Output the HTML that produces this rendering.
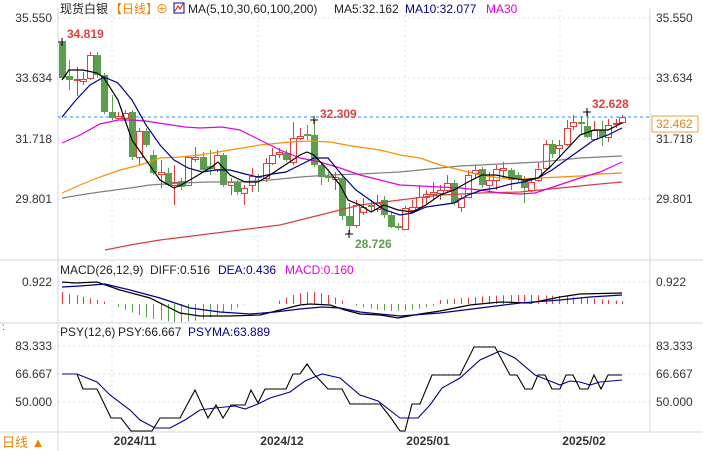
<!DOCTYPE html>
<html><head><meta charset="utf-8"><style>
body{margin:0;background:#fff;width:703px;height:451px;overflow:hidden}
svg{display:block;font-family:"Liberation Sans","Noto Sans CJK SC",sans-serif}
</style></head><body>
<svg id="s" width="703" height="451" xmlns="http://www.w3.org/2000/svg">
<rect width="703" height="451" fill="#fff"/>
<g stroke="#dde3ea" stroke-dasharray="2,3" stroke-width="1">
<line x1="58" y1="18" x2="650" y2="18"/><line x1="58" y1="78" x2="650" y2="78"/><line x1="58" y1="139" x2="650" y2="139"/><line x1="58" y1="199" x2="650" y2="199"/>
<line x1="58" y1="282" x2="650" y2="282"/>
<line x1="58" y1="346" x2="650" y2="346"/><line x1="58" y1="374" x2="650" y2="374"/><line x1="58" y1="402" x2="650" y2="402"/>
<line x1="112" y1="10" x2="112" y2="432"/><line x1="258" y1="10" x2="258" y2="432"/><line x1="405" y1="10" x2="405" y2="432"/><line x1="560" y1="10" x2="560" y2="432"/>
</g>
<g stroke="#d0d8e0"><line x1="58" y1="8" x2="58" y2="451"/><line x1="0" y1="260" x2="703" y2="260"/><line x1="0" y1="323" x2="703" y2="323"/><line x1="0" y1="432" x2="703" y2="432"/><line x1="650" y1="8" x2="650" y2="432"/></g>
<g font-size="12" fill="#333" text-anchor="end">
<text x="52" y="22">35.550</text><text x="52" y="82">33.634</text><text x="52" y="143">31.718</text><text x="52" y="203">29.801</text>
<text x="52" y="286">0.922</text><text x="52" y="350">83.333</text><text x="52" y="378">66.667</text><text x="52" y="406">50.000</text>
</g>
<g font-size="12" fill="#333">
<text x="656" y="22">35.550</text><text x="656" y="82">33.634</text><text x="656" y="143">31.718</text><text x="656" y="203">29.801</text>
<text x="656" y="286">0.922</text><text x="656" y="350">83.333</text><text x="656" y="378">66.667</text><text x="656" y="406">50.000</text>
</g>
<rect x="652" y="116" width="46" height="16" fill="#fff" stroke="#f0a040"/>
<text x="656" y="128" font-size="12" fill="#f08000">32.462</text>
<line x1="58" y1="117" x2="650" y2="117" stroke="#1e90ff" stroke-dasharray="3,3"/>
<g font-size="12" font-weight="bold" fill="#333" text-anchor="middle">
<text x="135" y="445">2024/11</text><text x="282" y="445">2024/12</text><text x="428" y="445">2025/01</text><text x="584" y="445">2025/02</text>
</g>
<text x="2" y="447" font-size="13" fill="#f08000">日线 ▲</text>
<text x="2" y="330" font-size="10" fill="#e00">:</text>
<g id="c"></g>
<g font-size="12">
<text x="60" y="13" fill="#222">现货白银</text>
<text x="110" y="13" fill="#f08000">【日线】</text>
<text x="156" y="13" fill="#f08000">⊕</text>
<rect x="174" y="3" width="10" height="10" fill="none" stroke="#00008b"/><polyline points="175,11 178,6 180,9 183,4" fill="none" stroke="#e00"/>
<text x="188" y="13" fill="#222">MA(5,10,30,60,100,200)</text>
<text x="334" y="13" fill="#222">MA5:32.162</text>
<text x="405" y="13" fill="#00008b">MA10:32.077</text>
<text x="486" y="13" fill="#e000e0">MA30</text>
<text x="60" y="274" fill="#222">MACD(26,12,9)</text>
<text x="150" y="274" fill="#222">DIFF:0.516</text>
<text x="218" y="274" fill="#00008b">DEA:0.436</text>
<text x="285" y="274" fill="#e000e0">MACD:0.160</text>
<text x="60" y="336" fill="#222">PSY(12,6)</text>
<text x="118" y="336" fill="#222">PSY:66.667</text>
<text x="188" y="336" fill="#00008b">PSYMA:63.889</text>
</g>
<g font-size="12" font-weight="bold">
<text x="67" y="38" fill="#e04040">34.819</text>
<text x="320" y="118" fill="#e04040">32.309</text>
<text x="592" y="108" fill="#e04040">32.628</text>
<text x="355" y="248" fill="#5b9e4d">28.726</text>
</g>
</svg>
<script>
var C=[[62,'g',43,78,42,80],[69,'g',76,80,60,90],[77,'r',79,80,67,96],[83,'r',79,81,72,85],[90,'r',55,78,52,80],[97,'g',55,75,52,78],[104,'g',75,112,73,114],[112,'g',112,118,95,120],[118,'r',116,118,112,120],[125,'r',113,118,110,122],[132,'g',112,157,110,160],[139,'r',131,157,128,165],[146,'g',131,145,128,147],[153,'g',155,173,150,175],[161,'r',172,174,160,188],[168,'g',173,185,168,186],[174,'r',182,185,165,205],[181,'g',181,187,178,190],[188,'r',157,185,156,186],[195,'r',157,159,147,162],[203,'g',157,170,152,172],[210,'g',166,169,150,175],[217,'r',155,169,150,172],[223,'g',155,185,153,187],[231,'r',182,185,178,195],[237,'g',182,192,180,195],[244,'r',188,193,185,205],[252,'r',176,185,168,192],[258,'g',176,178,174,192],[266,'r',163,178,158,182],[272,'r',155,163,148,165],[279,'r',152,154,148,158],[286,'g',153,160,150,162],[293,'r',138,162,122,165],[300,'r',136,138,128,140],[307,'g',134,136,125,140],[314,'g',135,165,120,167],[321,'g',165,177,162,185],[328,'g',176,178,172,182],[335,'r',177,179,172,190],[342,'g',178,216,176,220],[349,'g',216,226,203,234],[356,'r',205,225,200,228],[363,'r',207,212,198,215],[371,'g',205,207,200,212],[377,'r',203,209,195,212],[384,'g',200,215,196,218],[391,'g',215,227,212,228],[398,'g',226,228,223,230],[405,'r',208,229,206,230],[412,'r',207,210,200,213],[419,'r',197,207,185,210],[426,'r',194,197,190,205],[433,'r',192,194,182,200],[440,'r',190,193,185,200],[447,'r',183,190,175,192],[454,'g',183,203,180,205],[461,'r',198,207,195,212],[468,'r',175,197,170,198],[475,'r',170,173,165,178],[482,'g',169,185,167,188],[489,'r',180,185,172,192],[496,'r',169,180,165,190],[503,'r',168,170,162,178],[511,'g',170,180,168,190],[518,'g',175,179,172,182],[524,'g',179,188,176,203],[531,'r',182,190,178,192],[538,'r',169,180,162,182],[546,'r',144,168,140,170],[552,'g',144,154,140,158],[559,'r',145,148,140,158],[567,'r',128,144,120,146],[573,'r',122,126,115,130],[581,'g',122,124,116,134],[587,'g',126,137,111,138],[594,'r',130,139,121,141],[602,'g',130,137,121,146],[608,'r',125,137,119,142],[616,'r',123,124,119,128],[622,'r',117,122,115,124]];
var h='';
C.forEach(function(c){var col=c[1]=='r'?'#e23c3c':'#5b9e4d';
h+='<line x1="'+(c[0]+.5)+'" y1="'+c[4]+'" x2="'+(c[0]+.5)+'" y2="'+c[5]+'" stroke="'+col+'"/>';
var hh=Math.max(1,c[3]-c[2]);
if(c[1]=='r')h+='<rect x="'+(c[0]-2.5)+'" y="'+(c[2]+.5)+'" width="6" height="'+hh+'" fill="#fff" stroke="'+col+'"/>';
else h+='<rect x="'+(c[0]-3)+'" y="'+c[2]+'" width="7" height="'+hh+'" fill="'+col+'"/>';});
function pl(p,col,w){return '<polyline points="'+p+'" fill="none" stroke="'+col+'" stroke-width="'+(w||1)+'"/>';}
h+=pl('105,250 130,245 160,240 200,235 240,230 280,225 320,215 340,210 360,205 400,200 440,195 480,193 520,192 540,190 560,188 580,186 600,184 622,182','#d84040',1.2);
h+=pl('62,198 80,195 100,192 130,188 150,185 180,183 210,182 240,182 270,180 300,177 330,175 360,174 380,173 400,172 420,170 440,168 460,166 480,165 500,164 520,163 540,162 560,160 580,158 600,157 622,156','#808080',1.2);
h+=pl('62,193 80,185 100,177 120,170 140,165 160,158 180,157 200,155 230,150 260,145 290,142 310,141 330,142 352,146 380,150 400,155 420,158 440,165 460,170 480,175 500,178 520,179 540,178 560,177 580,176 600,174 622,173','#ff8c00',1.2);
h+=pl('62,143 80,135 100,124 118,120 132,120 146,121 165,124 185,127 200,128 222,127 240,130 260,140 280,150 300,158 320,162 340,168 360,175 380,180 400,185 420,186 440,187 460,188 480,190 500,193 520,194 535,193 550,188 565,183 580,178 600,172 622,162','#e000e0',1.2);
h+=pl('62,117 76,100 90,85 104,77 118,83 132,100 146,125 160,145 174,160 188,168 202,172 216,170 230,170 245,174 258,177 272,174 286,172 300,165 314,158 328,158 342,175 356,190 370,200 385,210 400,215 412,213 426,207 440,205 454,203 468,195 482,190 496,188 511,184 524,182 538,178 552,170 566,160 580,150 594,140 608,135 622,128','#00008b',1.2);
h+=pl('62,80 69,70 83,70 97,73 104,78 118,100 132,140 146,160 160,180 174,188 181,185 195,177 210,168 218,162 230,175 245,182 258,182 270,175 285,165 300,155 307,152 314,155 328,170 340,185 348,200 360,205 371,212 384,205 398,210 412,212 426,205 440,195 454,190 468,182 482,175 496,175 511,178 524,180 538,178 552,165 566,150 580,135 594,130 608,130 622,123','#000',1.2);
h+='<path d="M58,42h8M62,38v8M345,234h8M349,230v8M310,120h8M314,116v8M583,112h8M587,108v8" stroke="#000"/>';
// MACD histogram
C.forEach(function(c,i){var v;
if(i<7)v=12-i*1.6;else if(i<30){var t=(i-7)/22;v=-18*Math.sin(Math.PI*Math.min(1,t*1.15));}
else if(i<41)v=12*Math.sin(Math.PI*(i-30)/11);else if(i<54)v=-7*Math.sin(Math.PI*(i-41)/13);else v=4+5*Math.sin(Math.PI*(i-54)/24);
var z=304,col=v>=0?'#e23c3c':'#5b9e4d';h+='<line x1="'+(c[0]+.5)+'" y1="'+z+'" x2="'+(c[0]+.5)+'" y2="'+(z-v)+'" stroke="'+col+'"/>';});
h+=pl('62,282 75,283 97,282 120,290 150,298 180,313 200,316 230,316 260,315 280,310 300,305 310,304 330,305 345,310 360,314 380,315 398,318 420,314 440,311 470,305 500,302 530,303 560,297 580,294 622,293','#000',1.2);
h+=pl('62,287 80,286 105,284 130,290 160,298 190,308 220,312 250,314 275,312 300,309 322,307 340,308 360,312 400,316 440,313 480,308 520,303 560,300 590,297 622,295','#00008b',1.2);
h+=pl('62,374 77,374 83,389 97,389 111,418 121,418 131,431 152,431 160,418 180,418 195,390 208,418 216,405 223,418 231,405 245,405 251,390 258,403 265,389 286,389 293,374 300,374 307,364 314,374 328,389 342,389 350,404 380,404 391,418 400,431 405,431 412,404 420,404 432,375 460,375 474,347 495,347 510,375 517,375 525,389 532,389 538,375 545,375 552,389 560,389 566,375 573,375 580,389 588,389 594,375 601,389 608,375 622,375','#000',1.1);
h+=pl('62,374 77,374 97,382 110,395 130,410 140,420 155,428 170,428 185,420 200,410 215,408 235,406 245,409 258,404 270,398 290,392 305,381 322,374 340,378 360,395 378,401 400,418 418,418 430,405 442,388 460,378 480,360 500,351 515,358 535,375 550,381 560,385 570,381 580,382 590,385 600,382 622,380','#00008b',1.1);
document.getElementById('c').innerHTML=h;
</script>
</body></html>
